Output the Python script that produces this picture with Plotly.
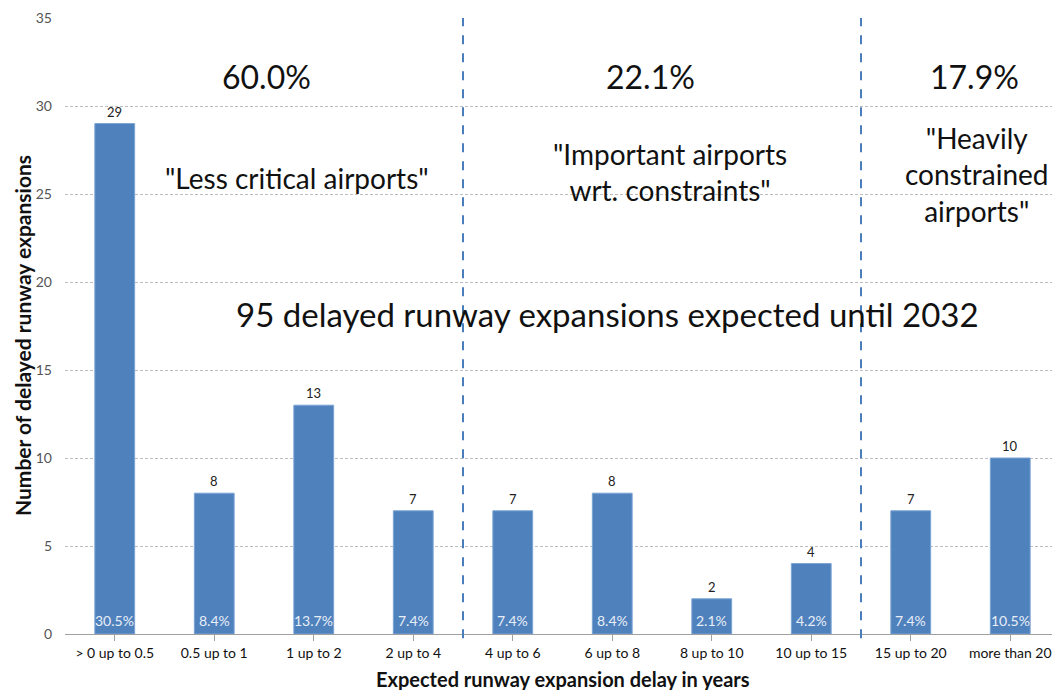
import plotly.graph_objects as go

categories = ["> 0 up to 0.5", "0.5 up to 1", "1 up to 2", "2 up to 4", "4 up to 6",
              "6 up to 8", "8 up to 10", "10 up to 15", "15 up to 20", "more than 20"]
counts = [29, 8, 13, 7, 7, 8, 2, 4, 7, 10]
share_labels = ["30.5%", "8.4%", "13.7%", "7.4%", "7.4%", "8.4%", "2.1%", "4.2%", "7.4%", "10.5%"]

group_shares = ["60.0%", "22.1%", "17.9%"]
group_share_x = [1.53, 5.38, 8.64]
group_names = ['"Less critical airports"', '"Important airports<br>wrt. constraints"',
               '"Heavily<br>constrained<br>airports"']
group_name_x = [1.83, 5.58, 8.66]
group_name_y = [25.9, 26.25, 26.1]
separators = [3.5, 7.5]
y_ticks = [0, 5, 10, 15, 20, 25, 30, 35]
headline = "95 delayed runway expansions expected until 2032"

FONT = "Lato, 'Open Sans', sans-serif"
BAR = "#4f81bd"

fig = go.Figure()
fig.add_trace(go.Bar(
    x=list(range(len(categories))), y=counts,
    marker=dict(color=BAR, line=dict(color="#7aa3d4", width=1)),
    width=0.4, hoverinfo="skip", showlegend=False,
))

ann = []
for i, (c, p) in enumerate(zip(counts, share_labels)):
    ann.append(dict(x=i, y=c, text=str(c), showarrow=False, yanchor="bottom", yshift=2,
                    font=dict(size=13, color="#222222", family=FONT)))
    ann.append(dict(x=i, y=0, text=p, showarrow=False, yanchor="bottom", yshift=3,
                    font=dict(size=14, color="#e8eef7", family=FONT)))
for gx, gs in zip(group_share_x, group_shares):
    ann.append(dict(x=gx, y=31.7, text=gs, showarrow=False, yanchor="middle",
                    font=dict(size=32, color="#111111", family=FONT)))
for gx, gn, gy in zip(group_name_x, group_names, group_name_y):
    ann.append(dict(x=gx, y=gy, text=gn, showarrow=False, yanchor="middle",
                    font=dict(size=28, color="#111111", family=FONT)))
ann.append(dict(x=4.95, y=18.2, text=headline, showarrow=False, yanchor="middle",
                font=dict(size=33, color="#111111", family=FONT)))

# axis titles as paper annotations
ann.append(dict(xref="paper", yref="paper", x=0.5, y=0, yshift=-45, yanchor="middle",
                text="<b>Expected runway expansion delay in years</b>", showarrow=False,
                font=dict(size=20, color="#111111", family=FONT)))
ann.append(dict(xref="paper", yref="paper", x=0, xshift=-43, y=0.5, yshift=-10,
                xanchor="center", textangle=-90,
                text="<b>Number of delayed runway expansions</b>", showarrow=False,
                font=dict(size=21, color="#111111", family=FONT)))

shapes = []
for s in separators:
    shapes.append(dict(type="line", xref="x", yref="paper", x0=s, x1=s, y0=-0.007, y1=1,
                       line=dict(color="#4a7ebb", width=2, dash="dash")))

# page body has an 8px default margin: figure sized to fit the 1060x690 window
fig.update_layout(
    width=1052, height=682,
    margin=dict(l=57, r=0, t=10, b=56, autoexpand=False),
    paper_bgcolor="white", plot_bgcolor="white",
    font=dict(family=FONT, size=13, color="#222222"),
    annotations=ann, shapes=shapes,
    bargap=0.6,
)
fig.update_xaxes(
    tickmode="array", tickvals=list(range(len(categories))), ticktext=categories,
    range=[-0.5, len(categories) - 0.5], automargin=False,
    showline=True, linecolor="#a0a0a0", linewidth=1,
    ticks="outside", tickson="boundaries", ticklen=6, tickcolor="#a0a0a0",
    showgrid=False, zeroline=False,
    tickfont=dict(size=14, color="#111111"),
)
fig.update_yaxes(
    range=[0, 35], tickvals=y_ticks, automargin=False,
    showgrid=True, gridcolor="#bdbdbd", griddash="3px,2px", gridwidth=1,
    zeroline=False, showline=False, ticks="", ticklabelstandoff=12,
    tickfont=dict(size=14, color="#555555"),
)
fig.write_html("out.html")
